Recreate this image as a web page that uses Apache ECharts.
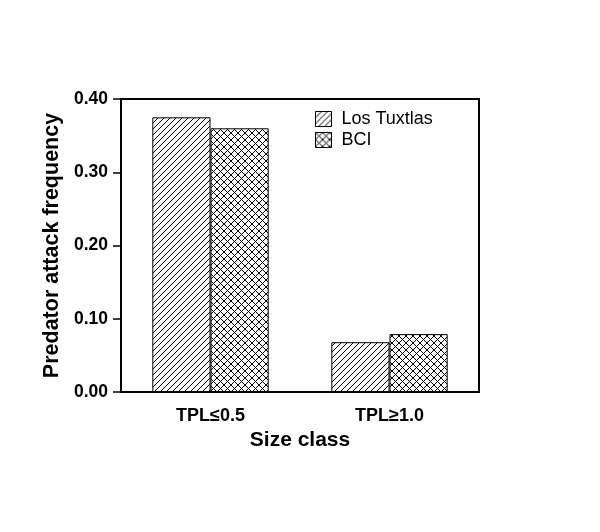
<!DOCTYPE html>
<html>
<head>
<meta charset="utf-8">
<script src="https://cdn.jsdelivr.net/npm/echarts@6/dist/echarts.min.js"></script>
<style>html,body{margin:0;padding:0;background:#fff}#c{width:600px;height:532px}</style>
</head>
<body>
<div id="c"></div>
<script>
var categories = ['TPL\u22640.5', 'TPL\u22651.0'];
var losTuxtlas = [0.375, 0.068];
var bci = [0.360, 0.079];
var yTicks = [0, 0.1, 0.2, 0.3, 0.4];

function hatch() {
  var c = document.createElement('canvas'); c.width = 6; c.height = 6;
  var g = c.getContext('2d');
  g.fillStyle = '#fff'; g.fillRect(0, 0, 6, 6);
  g.strokeStyle = '#000'; g.lineWidth = 1;
  g.beginPath();
  g.moveTo(-1, 7); g.lineTo(7, -1);
  g.moveTo(-1, 1); g.lineTo(1, -1);
  g.moveTo(5, 7); g.lineTo(7, 5);
  g.stroke();
  return c;
}
function cross() {
  var c = document.createElement('canvas'); c.width = 7; c.height = 7;
  var g = c.getContext('2d');
  g.fillStyle = '#fff'; g.fillRect(0, 0, 7, 7);
  g.strokeStyle = '#000'; g.lineWidth = 1;
  g.beginPath();
  g.moveTo(-1, 8); g.lineTo(8, -1);
  g.moveTo(-1, -1); g.lineTo(8, 8);
  g.stroke();
  return c;
}

var font = '"Liberation Sans", Arial, Helvetica, sans-serif';
var chart = echarts.init(document.getElementById('c'), null, {renderer: 'canvas'});
chart.setOption({
  animation: false,
  backgroundColor: '#fff',
  textStyle: {fontFamily: font, color: '#000'},
  grid: {left: 121, right: 121, top: 99, bottom: 140, show: true, borderColor: '#000', borderWidth: 2, backgroundColor: 'transparent'},
  legend: {
    orient: 'vertical', left: 315, top: 110, itemWidth: 16, itemHeight: 15, itemGap: 3, padding: 0,
    textStyle: {fontSize: 18, fontFamily: font, color: '#000', padding: [0, 0, 0, 5]},
    itemStyle: {borderColor: '#000', borderWidth: 1},
    icon: 'rect',
    data: ['Los Tuxtlas', 'BCI']
  },
  xAxis: {
    type: 'category', data: categories,
    name: 'Size class', nameLocation: 'middle', nameGap: 37,
    nameTextStyle: {fontSize: 21, fontWeight: 'bold', fontFamily: font, color: '#000'},
    axisLine: {lineStyle: {color: '#000', width: 2}},
    axisTick: {alignWithLabel: true, length: 10, lineStyle: {color: '#000', width: 1}},
    axisLabel: {fontSize: 18, fontWeight: 'bold', fontFamily: font, color: '#000', margin: 15}
  },
  yAxis: {
    type: 'value', min: 0, max: 0.4, interval: 0.1,
    name: 'Predator attack frequency', nameLocation: 'middle', nameGap: 56,
    nameTextStyle: {fontSize: 21.5, fontWeight: 'bold', fontFamily: font, color: '#000'},
    splitLine: {show: false},
    axisLine: {show: true, lineStyle: {color: '#000', width: 2}},
    axisTick: {show: true, length: 8, lineStyle: {color: '#000', width: 1.5}},
    axisLabel: {fontSize: 17.5, fontWeight: 'bold', fontFamily: font, color: '#000', margin: 13,
      formatter: function (v) { return yTicks.indexOf(v) >= 0 ? v.toFixed(2) : ''; }}
  },
  series: [
    {name: 'Los Tuxtlas', type: 'bar', data: losTuxtlas, barGap: '0%', barCategoryGap: '35%',
     itemStyle: {color: {image: hatch(), repeat: 'repeat'}, borderColor: '#000', borderWidth: 1}},
    {name: 'BCI', type: 'bar', data: bci, barGap: '0%', barCategoryGap: '35%',
     itemStyle: {color: {image: cross(), repeat: 'repeat'}, borderColor: '#000', borderWidth: 1}}
  ]
});
</script>
</body>
</html>
